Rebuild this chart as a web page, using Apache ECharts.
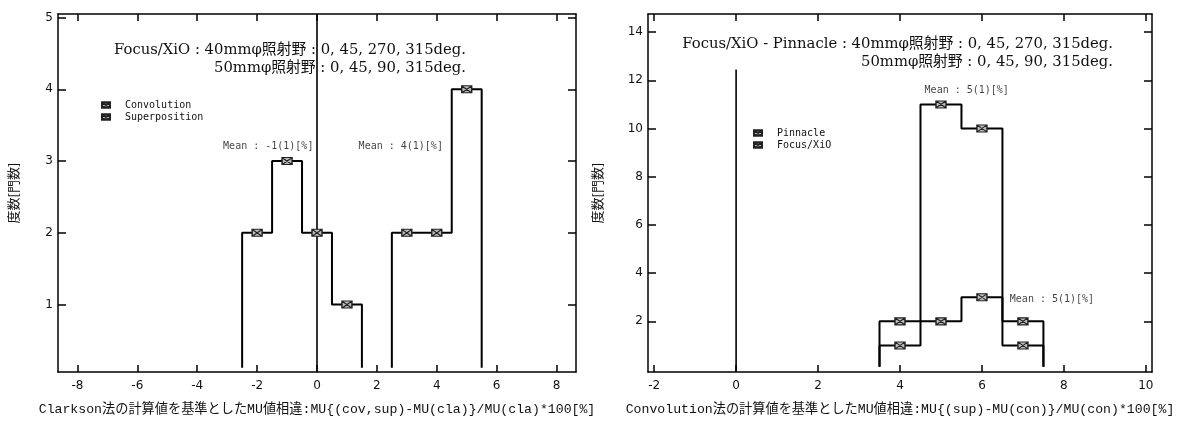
<!DOCTYPE html>
<html><head><meta charset="utf-8">
<script src="https://cdn.jsdelivr.net/npm/echarts@6/dist/echarts.min.js"></script>
<style>html,body{margin:0;padding:0;background:#fff}#c{width:1179px;height:424px}</style>
</head><body><div id="c"></div>
<script>
// ---- data (histograms: bins centred on integer % values, width 1) ----
const leftConvBins = [-2, -1, 0, 1];
const leftConvCounts = [2, 3, 2, 1];
const leftSupBins = [3, 4, 5];
const leftSupCounts = [2, 2, 4];
const rightPinBins = [4, 5, 6, 7];
const rightPinCounts = [1, 11, 10, 1];
const rightXioBins = [4, 5, 6, 7];
const rightXioCounts = [2, 2, 3, 2];
const leftXTicks = [-8, -6, -4, -2, 0, 2, 4, 6, 8];
const leftYTicks = [1, 2, 3, 4, 5];
const rightXTicks = [-2, 0, 2, 4, 6, 8, 10];
const rightYTicks = [2, 4, 6, 8, 10, 12, 14];
const leftXRange = [-8.65, 8.65];
const leftYRange = [0.06, 5.05];
const rightXRange = [-2.15, 10.15];
const rightYRange = [-0.1, 14.75];
const histBase = 0.12;
const leftZeroTop = 5.05;
const rightZeroTop = 12.45;
const yName = '度数[門数]';
const leftXName = 'Clarkson法の計算値を基準としたMU値相違:MU{(cov,sup)-MU(cla)}/MU(cla)*100[%]';
const rightXName = 'Convolution法の計算値を基準としたMU値相違:MU{(sup)-MU(con)}/MU(con)*100[%]';
const leftNote = 'Focus/XiO : 40mmφ照射野 : 0, 45, 270, 315deg.\n50mmφ照射野 : 0, 45, 90, 315deg.';
const rightNote = 'Focus/XiO - Pinnacle : 40mmφ照射野 : 0, 45, 270, 315deg.\n50mmφ照射野 : 0, 45, 90, 315deg.';
const meanLeftConv = 'Mean : -1(1)[%]';
const meanLeftSup = 'Mean : 4(1)[%]';
const meanRightPin = 'Mean : 5(1)[%]';
const meanRightXio = 'Mean : 5(1)[%]';

// ---- helpers ----
function stepPath(bins, counts, base) {
  const pts = [[bins[0] - 0.5, base]];
  bins.forEach((b, i) => { pts.push([b - 0.5, counts[i]]); pts.push([b + 0.5, counts[i]]); });
  pts.push([bins[bins.length - 1] + 0.5, base]);
  return pts;
}
const MARK = 'path://M0,0H10V7H0Z M0,0L10,7 M10,0L0,7';
const tickFont = {color: '#111', fontFamily: 'DejaVu Sans', fontSize: 12};
const mono = '"Liberation Mono", "Noto Sans CJK JP", monospace';
const noteFont = '14.8px "DejaVu Serif", "Noto Sans CJK JP", serif';

function xAx(grid, range, ticks, pos, labels, name) {
  return {
    type: 'value', gridIndex: grid, position: pos, min: range[0], max: range[1],
    axisLine: {show: true, onZero: false, lineStyle: {color: '#000', width: 1.5}},
    axisTick: {show: true, inside: true, length: 7, customValues: ticks, lineStyle: {color: '#000', width: 1.5}},
    axisLabel: Object.assign({show: labels, customValues: ticks, margin: 8}, tickFont),
    splitLine: {show: false},
    name: name || '', nameLocation: 'middle', nameGap: 31,
    nameTextStyle: {fontFamily: mono, fontSize: 13.2, color: '#111'}
  };
}
function yAx(grid, range, ticks, pos, labels, name, gap) {
  return {
    type: 'value', gridIndex: grid, position: pos, min: range[0], max: range[1],
    axisLine: {show: true, onZero: false, lineStyle: {color: '#000', width: 1.5}},
    axisTick: {show: true, inside: true, length: 8, customValues: ticks, lineStyle: {color: '#000', width: 1.5}},
    axisLabel: Object.assign({show: labels, customValues: ticks, margin: 5}, tickFont),
    splitLine: {show: false},
    name: name || '', nameLocation: 'middle', nameRotate: 90, nameGap: gap || 40,
    nameTextStyle: {fontFamily: '"Noto Sans CJK JP"', fontSize: 13, color: '#111'}
  };
}
function stepSeries(name, xi, yi, bins, counts) {
  return {name: name, type: 'line', xAxisIndex: xi, yAxisIndex: yi, data: stepPath(bins, counts, histBase),
    showSymbol: false, silent: true, lineStyle: {color: '#000', width: 2}, z: 3};
}
function markSeries(name, xi, yi, bins, counts) {
  return {name: name, type: 'scatter', xAxisIndex: xi, yAxisIndex: yi, symbol: MARK, symbolSize: [10, 7],
    data: bins.map((b, i) => [b, counts[i]]),
    itemStyle: {color: '#bdbdbd', borderColor: '#222', borderWidth: 1.2, opacity: 1}, z: 5};
}
function lineSeries(xi, yi, pts) {
  return {type: 'line', xAxisIndex: xi, yAxisIndex: yi, data: pts, showSymbol: false, silent: true,
    lineStyle: {color: '#000', width: 1.6}, z: 2};
}
function textSeries(xi, yi, x, y, text, align) {
  return {type: 'scatter', xAxisIndex: xi, yAxisIndex: yi, symbolSize: 0, silent: true,
    data: [[x, y]],
    label: {show: true, position: [0, 0], align: align, verticalAlign: 'middle', formatter: text,
      fontFamily: '"DejaVu Sans Mono", monospace', fontSize: 10, color: '#111'}, z: 6};
}

const chart = echarts.init(document.getElementById('c'), null, {renderer: 'canvas'});
chart.setOption({
  animation: false,
  backgroundColor: '#fff',
  grid: [
    {left: 58, top: 14, width: 518, height: 358},
    {left: 648, top: 14, width: 504, height: 358}
  ],
  xAxis: [
    xAx(0, leftXRange, leftXTicks, 'bottom', true, leftXName),
    xAx(0, leftXRange, leftXTicks, 'top', false),
    xAx(1, rightXRange, rightXTicks, 'bottom', true, rightXName),
    xAx(1, rightXRange, rightXTicks, 'top', false)
  ],
  yAxis: [
    yAx(0, leftYRange, leftYTicks, 'left', true, yName, 38),
    yAx(0, leftYRange, leftYTicks, 'right', false),
    yAx(1, rightYRange, rightYTicks, 'left', true, yName, 44),
    yAx(1, rightYRange, rightYTicks, 'right', false)
  ],
  legend: [
    {data: [{name: 'Convolution', icon: MARK}, {name: 'Superposition', icon: MARK}],
     orient: 'vertical', left: 96, top: 95, itemWidth: 8, itemHeight: 6, itemGap: 2, selectedMode: false,
     textStyle: {fontFamily: '"DejaVu Sans Mono", monospace', fontSize: 10, color: '#111', padding: [0, 0, 0, 10]}},
    {data: [{name: 'Pinnacle', icon: MARK}, {name: 'Focus/XiO', icon: MARK}],
     orient: 'vertical', left: 748, top: 123, itemWidth: 8, itemHeight: 6, itemGap: 2, selectedMode: false,
     textStyle: {fontFamily: '"DejaVu Sans Mono", monospace', fontSize: 10, color: '#111', padding: [0, 0, 0, 10]}}
  ],
  graphic: [
    {type: 'text', x: 466, y: 41, z: 10, style: {text: leftNote, align: 'right', verticalAlign: 'top',
      font: noteFont, fill: '#111', lineHeight: 18}},
    {type: 'text', x: 1113, y: 35, z: 10, style: {text: rightNote, align: 'right', verticalAlign: 'top',
      font: noteFont, fill: '#111', lineHeight: 18}}
  ],
  series: [
    lineSeries(0, 0, [[0, leftYRange[0]], [0, leftZeroTop]]),
    lineSeries(2, 2, [[0, rightYRange[0]], [0, rightZeroTop]]),
    markSeries('Convolution', 0, 0, leftConvBins, leftConvCounts),
    markSeries('Superposition', 0, 0, leftSupBins, leftSupCounts),
    stepSeries('conv-step', 0, 0, leftConvBins, leftConvCounts),
    stepSeries('sup-step', 0, 0, leftSupBins, leftSupCounts),
    markSeries('Pinnacle', 2, 2, rightPinBins, rightPinCounts),
    markSeries('Focus/XiO', 2, 2, rightXioBins, rightXioCounts),
    stepSeries('pin-step', 2, 2, rightPinBins, rightPinCounts),
    stepSeries('xio-step', 2, 2, rightXioBins, rightXioCounts),
    textSeries(0, 0, -0.12, 3.2, meanLeftConv, 'right'),
    textSeries(0, 0, 1.39, 3.2, meanLeftSup, 'left'),
    textSeries(2, 2, 4.6, 11.6, meanRightPin, 'left'),
    textSeries(2, 2, 6.68, 2.93, meanRightXio, 'left')
  ]
});
</script></body></html>
